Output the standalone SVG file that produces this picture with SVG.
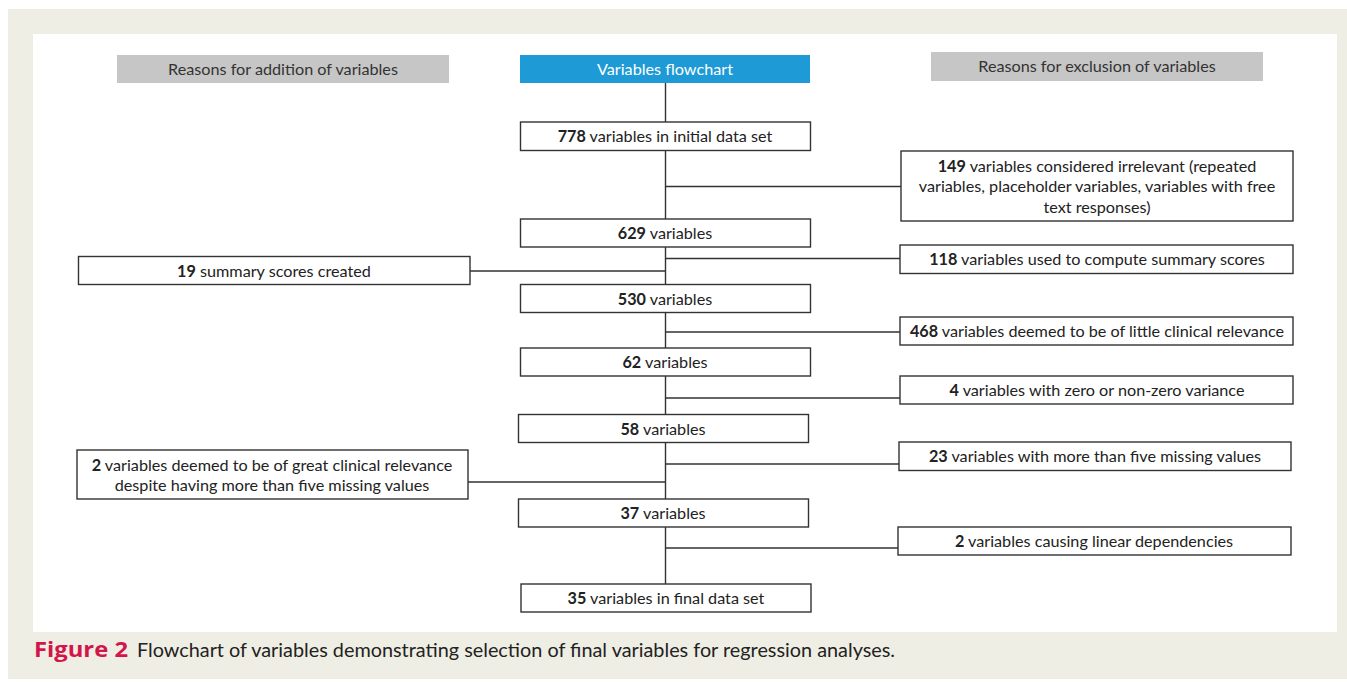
<svg xmlns="http://www.w3.org/2000/svg" width="1347" height="682" viewBox="0 0 1347 682">
<style>
.box{fill:#fff;stroke:#333;stroke-width:1.4}
.t{font-family:Lato,"Open Sans","Liberation Sans",sans-serif;font-size:16.2px;fill:#222;text-anchor:middle}
.b{font-weight:bold}
.hdr{fill:#c6c6c6}
.ln{stroke:#333;stroke-width:1.4;fill:none}
</style>
<rect x="0" y="0" width="1347" height="682" fill="#fff"/>
<rect x="8" y="9" width="1339" height="670" fill="#efeee4"/>
<rect x="33" y="34" width="1304" height="598" fill="#fff"/>

<g id="connectors">
<path class="ln" d="M665.5 83V122M665.5 150V219M665.5 247V285M665.5 313V348M665.5 376V414M665.5 443V499M665.5 527V584"/>
<path class="ln" d="M665.5 186.5H901M665.5 258.5H900M470 271H665.5M665.5 332H900M665.5 398H900M665.5 464H899M468 482H665.5M665.5 548H898"/>
</g>

<g id="hdr-add"><rect class="hdr" x="117" y="55" width="332" height="28"/><text class="t" x="283" y="75" style="fill:#333">Reasons for addition of variables</text></g>
<g id="hdr-flow"><rect x="520" y="55" width="290" height="28" fill="#1e9ad6"/><text class="t" x="665" y="75" style="fill:#fff">Variables flowchart</text></g>
<g id="hdr-excl"><rect class="hdr" x="931" y="52" width="332" height="29"/><text class="t" x="1097" y="72" style="fill:#333">Reasons for exclusion of variables</text></g>

<g id="n778"><rect class="box" x="520.5" y="122" width="290" height="28.5"/><text class="t" x="665" y="141.5"><tspan class="b">778</tspan> variables in initial data set</text></g>
<g id="n149"><rect class="box" x="901" y="151" width="392" height="70"/><text class="t" x="1097" y="171.5"><tspan class="b">149</tspan> variables considered irrelevant (repeated</text><text class="t" x="1097" y="192">variables, placeholder variables, variables with free</text><text class="t" x="1097" y="212.5">text responses)</text></g>
<g id="n629"><rect class="box" x="520.5" y="219" width="290" height="28"/><text class="t" x="665" y="238.5"><tspan class="b">629</tspan> variables</text></g>
<g id="n118"><rect class="box" x="900" y="245" width="393" height="28.5"/><text class="t" x="1097" y="264.5"><tspan class="b">118</tspan> variables used to compute summary scores</text></g>
<g id="n19"><rect class="box" x="78.5" y="256.5" width="391.5" height="28"/><text class="t" x="274" y="276.5"><tspan class="b">19</tspan> summary scores created</text></g>
<g id="n530"><rect class="box" x="520.5" y="284.5" width="290" height="28"/><text class="t" x="665" y="304.5"><tspan class="b">530</tspan> variables</text></g>
<g id="n468"><rect class="box" x="900" y="317" width="393" height="28"/><text class="t" x="1097" y="337"><tspan class="b">468</tspan> variables deemed to be of little clinical relevance</text></g>
<g id="n62"><rect class="box" x="520.5" y="348" width="290" height="28"/><text class="t" x="665" y="367.5"><tspan class="b">62</tspan> variables</text></g>
<g id="n4"><rect class="box" x="900" y="376" width="393" height="28"/><text class="t" x="1097" y="396"><tspan class="b">4</tspan> variables with zero or non-zero variance</text></g>
<g id="n58"><rect class="box" x="518.5" y="414.5" width="290" height="28"/><text class="t" x="663" y="434.5"><tspan class="b">58</tspan> variables</text></g>
<g id="n23"><rect class="box" x="899" y="442" width="392" height="28.5"/><text class="t" x="1095" y="462"><tspan class="b">23</tspan> variables with more than five missing values</text></g>
<g id="n2a"><rect class="box" x="77" y="450" width="391" height="49"/><text class="t" x="272" y="470.5"><tspan class="b">2</tspan> variables deemed to be of great clinical relevance</text><text class="t" x="272" y="490.5">despite having more than five missing values</text></g>
<g id="n37"><rect class="box" x="518.5" y="499" width="290" height="28"/><text class="t" x="663" y="519"><tspan class="b">37</tspan> variables</text></g>
<g id="n2b"><rect class="box" x="898" y="527" width="393" height="28"/><text class="t" x="1094" y="547"><tspan class="b">2</tspan> variables causing linear dependencies</text></g>
<g id="n35"><rect class="box" x="521" y="584" width="290" height="28"/><text class="t" x="666" y="604"><tspan class="b">35</tspan> variables in final data set</text></g>

<g id="caption">
<text x="34" y="657" textLength="94" lengthAdjust="spacingAndGlyphs" style="font-family:'Open Sans',Lato,sans-serif;font-weight:bold;font-size:22px;fill:#d4154b">Figure 2</text>
<text x="137" y="657" textLength="758" lengthAdjust="spacingAndGlyphs" style="font-family:Lato,'Open Sans',sans-serif;font-size:19.5px;fill:#222">Flowchart of variables demonstrating selection of final variables for regression analyses.</text>
</g>
</svg>
